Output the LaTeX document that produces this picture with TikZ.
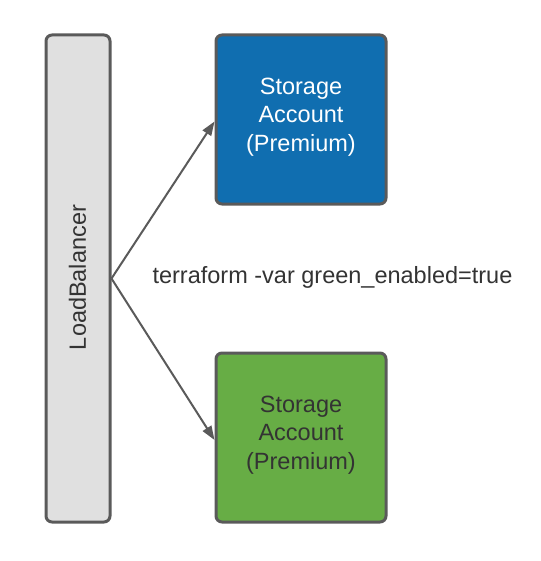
\documentclass[tikz,border=0pt]{standalone}
\usepackage{fontspec}
\setmainfont{Liberation Sans}
\usetikzlibrary{arrows.meta}
\definecolor{edgegray}{HTML}{5A5A5A}
\definecolor{lbfill}{HTML}{E0E0E0}
\definecolor{bluefill}{HTML}{106EB0}
\definecolor{greenfill}{HTML}{67AD45}
\definecolor{txtgray}{HTML}{333333}
\tikzset{
  px/.style={x=1pt,y=-1pt},
  box/.style={draw=edgegray, line width=3pt, rounded corners=6pt, inner sep=0pt},
  boxtext/.style={text=white, font=\fontsize{23.5}{28.5}\selectfont, align=center},
  conn/.style={draw=edgegray, line width=2pt, -{Triangle[length=14pt,width=10pt]}},
}
\begin{document}
\begin{tikzpicture}[px]
\useasboundingbox (0,0) rectangle (540,561);
\node[box, fill=lbfill, minimum width=64pt, minimum height=487pt] (lb) at (78,278.5) {};
\node[text=txtgray, font=\fontsize{23.5}{28.5}\selectfont, rotate=90] (lbtext) at (77.5,277.5) {LoadBalancer};
\node[box, fill=bluefill, minimum width=170pt, minimum height=169pt] (blue) at (301,119.5) {};
\node[boxtext] (bluetext) at (301,117) {Storage\\Account\\(Premium)};
\node[box, fill=greenfill, minimum width=170pt, minimum height=169pt] (green) at (301,437.5) {};
\node[boxtext, text=txtgray] (greentext) at (301,435) {Storage\\Account\\(Premium)};
\node[text=txtgray, font=\fontsize{23.5}{28.5}\selectfont, anchor=base] (cmd) at (332.5,283) {terraform -var green\_enabled=true};
\draw[conn] (lb.east) -- ([yshift=-2pt]blue.west);
\draw[conn] (lb.east) -- ([yshift=-2.5pt]green.west);
\end{tikzpicture}
\end{document}
